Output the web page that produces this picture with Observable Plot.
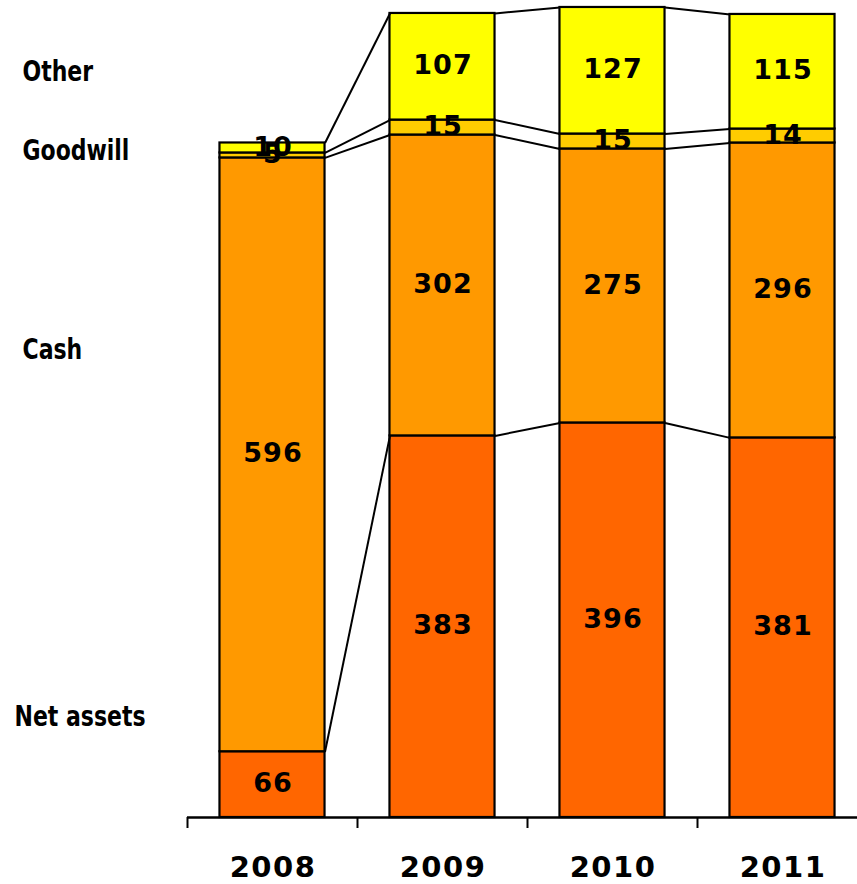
<!DOCTYPE html>
<html><head><meta charset="utf-8">
<script src="https://cdn.jsdelivr.net/npm/d3@7"></script>
<script src="https://cdn.jsdelivr.net/npm/@observablehq/plot@0.6"></script>
<style>body{margin:0;background:#fff}</style>
</head><body><div id="chart"></div>
<script>
const years = ["2008", "2009", "2010", "2011"];
const series = ["Net assets", "Cash", "Goodwill", "Other"];
const netAssets = [66, 383, 396, 381];
const cash = [596, 302, 275, 296];
const goodwill = [5, 15, 15, 14];
const other = [10, 107, 127, 115];
const colors = ["#FF6600", "#FF9900", "#FFCC00", "#FFFF00"];

const valuesBySeries = [netAssets, cash, goodwill, other];
const hw = 0.309; // half bar width in band units

// stacked segments
const table = [];
const tops = years.map(() => []);
years.forEach((yr, i) => {
  let acc = 0;
  series.forEach((s, k) => {
    const v = valuesBySeries[k][i];
    table.push({i, year: yr, series: s, value: v, y1: acc, y2: acc + v, mid: acc + v / 2, x1: i - hw, x2: i + hw});
    acc += v;
    tops[i].push(acc);
  });
});

// connector lines between adjacent bars at each stack level
const links = [];
for (let i = 0; i < years.length - 1; i++) {
  series.forEach((s, k) => {
    links.push({x1: i + hw, x2: i + 1 - hw, y1: tops[i][k], y2: tops[i + 1][k]});
  });
}

// series name labels on the left
const seriesLabels = series.map((s, k) => ({name: s, y: [101, 469, 669, 748][k]}));

const plot = Plot.plot({
  width: 857,
  height: 884,
  marginLeft: 187,
  marginRight: 0,
  marginTop: 0,
  marginBottom: 67,
  x: {domain: [-0.5, 3.5], range: [187, 867], axis: null},
  y: {domain: [0, 820], axis: null},
  color: {domain: series, range: colors},
  style: {fontFamily: "DejaVu Sans", fontSize: "22px", color: "#000", background: "#fff"},
  marks: [
    Plot.rect(table, {x1: "x1", x2: "x2", y1: "y1", y2: "y2", fill: "series", stroke: "#000", strokeWidth: 2.2}),
    Plot.link(links, {x1: "x1", y1: "y1", x2: "x2", y2: "y2", stroke: "#000", strokeWidth: 2}),
    Plot.ruleY([0], {stroke: "#000", strokeWidth: 2.5}),
    Plot.axisX({ticks: [-0.5, 0.5, 1.5, 2.5], tickSize: 11, tickFormat: () => "", strokeWidth: 2}),
    Plot.text(table, {x: "i", y: "mid", text: d => String(d.value), fontWeight: "bold", fontSize: 27, fill: "#000", dx: 0.5, dy: -1}),
    Plot.text(years, {x: (d, i) => i, text: d => d, frameAnchor: "bottom", lineAnchor: "middle", dy: 50, dx: 0.5, fontWeight: "bold", fontSize: 29, fill: "#000"}),
    Plot.text(seriesLabels.filter(d => d.name !== "Net assets"), {y: "y", text: "name", frameAnchor: "left", lineAnchor: "middle", dx: -165, textAnchor: "start", fontWeight: "bold", fontSize: 22, fill: "#000"}),
    Plot.text(seriesLabels.filter(d => d.name === "Net assets"), {y: "y", text: "name", frameAnchor: "left", lineAnchor: "middle", dx: -173, textAnchor: "start", fontWeight: "bold", fontSize: 22, fill: "#000"})
  ]
});

const textGroups = Array.from(plot.querySelectorAll('g[aria-label="text"]'));
function stretch(g, spacing, s) {
  if (!g) return;
  if (spacing) g.style.letterSpacing = spacing + "px";
  g.querySelectorAll("text").forEach(t => {
    if (spacing) t.style.letterSpacing = spacing + "px";
    if (s === 1) return;
    let tr = t.getAttribute("transform");
    if (!tr) {
      const x = t.getAttribute("x") || 0, y = t.getAttribute("y") || 0;
      t.removeAttribute("x"); t.removeAttribute("y");
      tr = `translate(${x},${y})`;
    }
    t.setAttribute("transform", tr + ` scale(1,${s})`);
  });
}
stretch(textGroups[0], 1, 1);
stretch(textGroups[1], 1.5, 1);
stretch(textGroups[2], 0, 1.28);
stretch(textGroups[3], 0, 1.28);

document.getElementById("chart").appendChild(plot);
</script>
</body></html>
